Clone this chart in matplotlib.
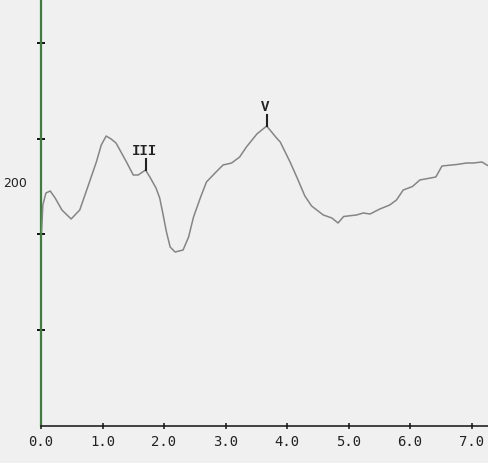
import matplotlib
matplotlib.use("Agg")
import matplotlib.pyplot as plt

# Trace (latency in ms, amplitude in arbitrary units)
trace_x = [0.01, 0.03, 0.08, 0.15, 0.23, 0.34, 0.49, 0.63, 0.76, 0.90, 0.98, 1.06,
           1.14, 1.22, 1.39, 1.50, 1.58, 1.70, 1.77, 1.87, 1.93, 1.98, 2.04, 2.10,
           2.18, 2.31, 2.40, 2.48, 2.59, 2.69, 2.83, 2.96, 3.10, 3.23, 3.34, 3.51,
           3.59, 3.67, 3.83, 3.89, 4.05, 4.18, 4.29, 4.40, 4.59, 4.73, 4.83,
           4.92, 5.13, 5.24, 5.35, 5.51, 5.67, 5.78, 5.89, 6.04, 6.16, 6.42, 6.52,
           6.76, 6.92, 7.03, 7.17, 7.25, 7.28]
trace_y = [194, 221, 233, 235, 228, 216, 207, 216, 239, 264, 281, 290,
           287, 283, 264, 251, 251, 256, 249, 238, 228, 213, 194, 179,
           174, 176, 189, 209, 228, 244, 253, 261, 263, 269, 279, 292,
           296, 300, 288, 284, 264, 246, 230, 220, 211, 208, 203,
           209.5, 211, 213, 212, 217, 221, 226, 236, 239.5, 246, 249, 260,
           261.5, 263, 263, 264, 261, 260]

# Peak markers
peak_labels = ["III", "V"]
peak_x = [1.70, 3.67]
peak_y = [256, 300]

x_ticks = [0, 1, 2, 3, 4, 5, 6, 7]
x_tick_labels = ["0.0", "1.0", "2.0", "3.0", "4.0", "5.0", "6.0", "7.0"]
y_minor_ticks = [96, 192, 287, 383]
y_label_value = 244
y_label_text = "200"

bg = "#f0f0f0"
fig = plt.figure(figsize=(4.89, 4.63), dpi=100, facecolor=bg)
ax = fig.add_axes([41/489, 37/463, 448/489, 426/463], facecolor=bg)

ax.plot(trace_x, trace_y, color="#858585", lw=1.1, solid_joinstyle="round", zorder=3)

for lab, px, py in zip(peak_labels, peak_x, peak_y):
    ax.plot([px, px], [py, py + 11], color="#222222", lw=1.5, zorder=4)
    ax.text(px - 0.02, py + 12, lab, ha="center", va="bottom",
            fontsize=10, fontweight="bold", family="Liberation Mono", color="#222222")

ax.set_xlim(0, 448/61.5)
ax.set_ylim(0, 426)

for s in ["top", "right"]:
    ax.spines[s].set_visible(False)
ax.spines["left"].set_color("#3d7d3d")
ax.spines["left"].set_linewidth(1.6)
ax.spines["bottom"].set_color("#111111")
ax.spines["bottom"].set_linewidth(1.1)
ax.spines["bottom"].set_zorder(5)

ax.set_xticks(x_ticks)
ax.set_xticklabels(x_tick_labels, family="DejaVu Sans Mono", fontsize=10, color="#222222")
ax.tick_params(axis="x", direction="inout", length=5, width=1.1, color="#111111", pad=4)

ax.set_yticks([y_label_value])
ax.set_yticklabels([y_label_text], fontsize=9, color="#222222")
ax.tick_params(axis="y", which="major", length=0, pad=10)
ax.set_yticks(y_minor_ticks, minor=True)
ax.tick_params(axis="y", which="minor", direction="inout", length=6, width=1.4, color="#111111")

fig.savefig("out.png", dpi=100, facecolor=bg)
